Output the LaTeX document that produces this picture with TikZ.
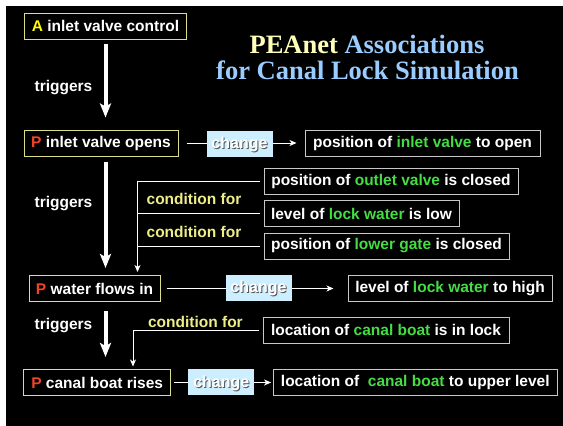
\documentclass[tikz,border=0pt]{standalone}
\usepackage{fontspec}
\setmainfont{Liberation Sans}
\newfontfamily\titlefont{Liberation Serif}
\usetikzlibrary{arrows.meta}
\definecolor{boxyel}{HTML}{DDDD88}
\definecolor{letA}{HTML}{FFFF00}
\definecolor{letP}{HTML}{F04428}
\definecolor{grn}{HTML}{44DD44}
\definecolor{condc}{HTML}{EEEE88}
\definecolor{boxgray}{HTML}{C8C8C8}
\definecolor{chgfill}{HTML}{CCEEFF}
\definecolor{ttlyel}{HTML}{FFFFBB}
\definecolor{ttlblue}{HTML}{99CCFF}
\definecolor{shad}{HTML}{555555}
\begin{document}
\begin{tikzpicture}[x=1pt,y=-1pt,
  lbl/.style={font=\fontsize{15.5}{18}\selectfont\bfseries, text=white},
  pbox/.style={lbl, draw=boxyel, line width=1pt, inner sep=0pt, minimum height=26pt},
  wbox/.style={lbl, draw=boxgray, line width=1pt, inner sep=0pt, minimum height=26pt},
  chgbox/.style={fill=chgfill, inner sep=0pt, minimum height=26pt, minimum width=66pt},
  chgtxt/.style={font=\fontsize{16}{18}\selectfont\bfseries, text=white},
  chgshadow/.style={font=\fontsize{16}{18}\selectfont\bfseries, text=shad},
  condlbl/.style={font=\fontsize{15.5}{18}\selectfont\bfseries, text=condc},
  trig/.style={white, line width=4pt, -{Stealth[length=14pt,width=11pt,inset=3pt]}},
  thinarr/.style={white, line width=1pt, -{Stealth[length=7pt,width=6pt,inset=2pt]}},
  thinline/.style={white, line width=1pt}]
\useasboundingbox (0,0) rectangle (563,426);
\fill[white] (0,0) rectangle (563,426);
\fill[black] (6,6) rectangle (563,426);

% title
\node[font=\titlefont\fontsize{26.5}{30}\selectfont\bfseries, anchor=base] (t1) at (367,53.3)
  {\textcolor{ttlyel}{PEAnet} \textcolor{ttlblue}{Associations}};
\node[font=\titlefont\fontsize{26.5}{30}\selectfont\bfseries, anchor=base, text=ttlblue] (t2) at (367.5,79.3)
  {for Canal Lock Simulation};

% left column
\node[pbox, minimum width=162pt] (A) at (105.5,26) {\textcolor{letA}{A} inlet valve control};
\node[pbox, minimum width=154pt] (P1) at (101,143) {\textcolor{letP}{P} inlet valve opens};
\node[pbox, minimum width=131pt] (P2) at (94.5,288.5) {\textcolor{letP}{P} water flows in};
\node[pbox, minimum width=146.5pt] (P3) at (97.2,382.5) {\textcolor{letP}{P} canal boat rises};

\node[lbl] (tr1) at (63.5,88) {triggers};
\node[lbl] (tr2) at (63.5,204) {triggers};
\node[lbl] (tr3) at (63.5,326) {triggers};

\draw[trig, shorten <=4pt, shorten >=12pt] (A.south) -- (A.south |- P1.north);
\draw[trig, shorten <=5pt, shorten >=7pt] (A.south |- P1.south) -- (A.south |- P2.north);
\draw[trig, shorten <=9pt, shorten >=12pt] (A.south |- P2.south) -- (A.south |- P3.north);

% right boxes
\node[wbox, minimum width=235pt] (R1) at (422.5,143) {position of \textcolor{grn}{inlet valve} to open};
\node[wbox, minimum width=254pt] (C1) at (391,181) {position of \textcolor{grn}{outlet valve} is closed};
\node[wbox, minimum width=195pt] (C2) at (361.5,213.5) {level of \textcolor{grn}{lock water} is low};
\node[wbox, minimum width=245pt] (C3) at (386.5,246) {position of \textcolor{grn}{lower gate} is closed};
\node[wbox, minimum width=204pt] (R2) at (450,288.5) {level of \textcolor{grn}{lock water} to high};
\node[wbox, minimum width=246pt] (C4) at (386,330) {location of \textcolor{grn}{canal boat} is in lock};
\node[wbox, minimum width=283.4pt] (R3) at (415.3,382.5) {location of\ \ \textcolor{grn}{canal boat} to upper level};

% change connectors
\draw[thinarr, shorten <=8pt, shorten >=8pt] (P1.east) -- (R1.west);
\draw[thinarr, shorten <=6pt, shorten >=14pt] (P2.east) -- (R2.west);
\draw[thinarr, shorten <=3.5pt, shorten >=2pt] (P3.east) -- (R3.west);

\node[chgbox] (ch1) at (239.5,143.5) {};
\node[chgshadow] (ch1s) at ([xshift=1pt,yshift=-2.2pt]ch1.center) {change};
\node[chgtxt] (ch1t) at ([yshift=-1.2pt]ch1.center) {change};
\node[chgbox] (ch2) at (258.5,287.5) {};
\node[chgshadow] (ch2s) at ([xshift=1pt,yshift=-2.2pt]ch2.center) {change};
\node[chgtxt] (ch2t) at ([yshift=-1.2pt]ch2.center) {change};
\node[chgbox] (ch3) at (221.3,382) {};
\node[chgshadow] (ch3s) at ([xshift=1pt,yshift=-2.2pt]ch3.center) {change};
\node[chgtxt] (ch3t) at ([yshift=-1.2pt]ch3.center) {change};

% condition connectors
\coordinate (k) at (137.5,0);
\coordinate (k2) at (133,0);
\draw[thinarr, shorten >=3pt] ([xshift=-4pt]C1.west) -| (k |- P2.north);
\draw[thinline] ([xshift=-4pt]C2.west) -- (C2.west -| k);
\draw[thinline] ([xshift=-4pt]C3.west) -- (C3.west -| k);
\draw[thinarr, shorten >=2.5pt] ([xshift=-4pt]C4.west) -| (k2 |- P3.north);

\node[condlbl] (cf1) at (194,199) {condition for};
\node[condlbl] (cf2) at (194,231.7) {condition for};
\node[condlbl] (cf3) at (195.4,321.7) {condition for};
\end{tikzpicture}
\end{document}
